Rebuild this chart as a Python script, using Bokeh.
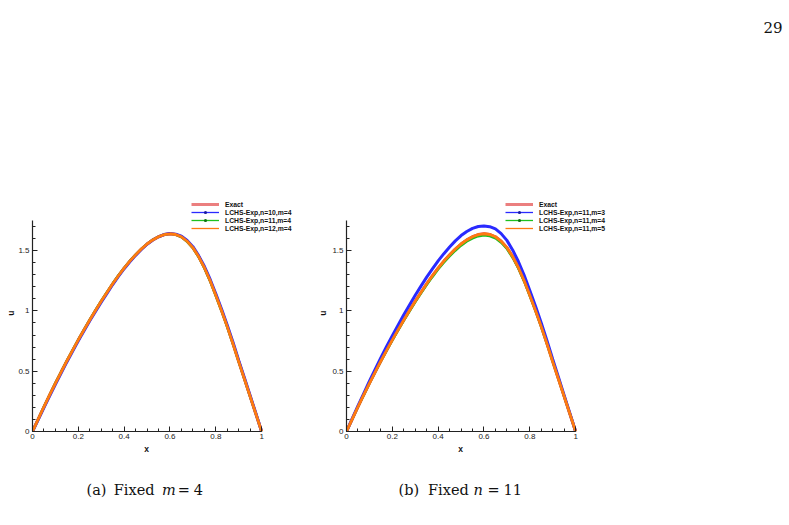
import math
from bokeh.plotting import figure
from bokeh.layouts import row, column
from bokeh.models import FixedTicker, Legend, LegendItem, Label, Range1d
from bokeh.embed import file_html
from bokeh.resources import INLINE

# ---------------- data ----------------
x_vals = [0.0, 0.025, 0.05, 0.075, 0.10, 0.125, 0.15, 0.175, 0.20, 0.225, 0.25,
          0.275, 0.30, 0.325, 0.35, 0.375, 0.40, 0.425, 0.45, 0.475, 0.50,
          0.525, 0.55, 0.575, 0.60, 0.625, 0.65, 0.675, 0.70, 0.725, 0.75,
          0.775, 0.80, 0.825, 0.85, 0.875, 0.90, 0.925, 0.95, 0.975, 1.0]

exact = [0, 0.103, 0.205, 0.303, 0.400, 0.493, 0.585, 0.673, 0.760, 0.843, 0.925,
         1.003, 1.080, 1.153, 1.225, 1.292, 1.355, 1.413, 1.465, 1.513, 1.555,
         1.589, 1.615, 1.633, 1.640, 1.634, 1.615, 1.578, 1.525, 1.451, 1.360,
         1.252, 1.130, 1.004, 0.870, 0.728, 0.580, 0.435, 0.290, 0.145, 0]

# (a) fixed m = 4
a_n10 = [0, 0.099, 0.198, 0.295, 0.392, 0.485, 0.577, 0.665, 0.752, 0.835, 0.918,
         0.996, 1.073, 1.146, 1.219, 1.286, 1.350, 1.408, 1.461, 1.510, 1.553,
         1.588, 1.615, 1.634, 1.642, 1.637, 1.620, 1.584, 1.533, 1.459, 1.370,
         1.263, 1.142, 1.016, 0.882, 0.740, 0.590, 0.444, 0.297, 0.149, 0]
a_n11 = [0, 0.105, 0.210, 0.308, 0.406, 0.499, 0.591, 0.679, 0.766, 0.849, 0.931,
         1.009, 1.086, 1.159, 1.230, 1.297, 1.360, 1.417, 1.469, 1.516, 1.557,
         1.591, 1.616, 1.633, 1.639, 1.631, 1.611, 1.572, 1.519, 1.444, 1.352,
         1.243, 1.121, 0.995, 0.862, 0.721, 0.573, 0.429, 0.285, 0.143, 0]
a_n12 = [0, 0.103, 0.205, 0.303, 0.400, 0.493, 0.585, 0.673, 0.760, 0.843, 0.925,
         1.003, 1.080, 1.153, 1.225, 1.292, 1.355, 1.413, 1.465, 1.513, 1.555,
         1.589, 1.615, 1.633, 1.640, 1.634, 1.615, 1.578, 1.525, 1.451, 1.360,
         1.252, 1.130, 1.004, 0.870, 0.728, 0.580, 0.435, 0.290, 0.145, 0]

# (b) fixed n = 11
b_m3 = [0, 0.106, 0.212, 0.315, 0.418, 0.516, 0.613, 0.705, 0.795, 0.882, 0.968,
        1.050, 1.130, 1.206, 1.280, 1.349, 1.415, 1.475, 1.530, 1.581, 1.625,
        1.659, 1.685, 1.700, 1.705, 1.699, 1.680, 1.641, 1.585, 1.506, 1.410,
        1.297, 1.170, 1.039, 0.900, 0.753, 0.600, 0.451, 0.300, 0.150, 0]
b_m4 = [0, 0.101, 0.202, 0.299, 0.396, 0.488, 0.580, 0.667, 0.753, 0.835, 0.916,
        0.993, 1.070, 1.142, 1.213, 1.279, 1.342, 1.399, 1.451, 1.498, 1.540,
        1.574, 1.600, 1.618, 1.625, 1.619, 1.601, 1.564, 1.512, 1.438, 1.349,
        1.242, 1.121, 0.996, 0.863, 0.722, 0.575, 0.431, 0.287, 0.144, 0]
b_m5 = [0, 0.103, 0.205, 0.303, 0.400, 0.493, 0.585, 0.673, 0.760, 0.843, 0.925,
        1.003, 1.080, 1.153, 1.225, 1.292, 1.355, 1.413, 1.465, 1.513, 1.555,
        1.589, 1.615, 1.633, 1.640, 1.634, 1.615, 1.578, 1.525, 1.451, 1.360,
        1.252, 1.130, 1.004, 0.870, 0.728, 0.580, 0.435, 0.290, 0.145, 0]

labels_a = ["Exact", "LCHS-Exp,n=10,m=4", "LCHS-Exp,n=11,m=4", "LCHS-Exp,n=12,m=4"]
labels_b = ["Exact", "LCHS-Exp,n=11,m=3", "LCHS-Exp,n=11,m=4", "LCHS-Exp,n=11,m=5"]

x_ticks = [0, 0.2, 0.4, 0.6, 0.8, 1.0]
x_tick_labels = ["0", "0.2", "0.4", "0.6", "0.8", "1"]
x_minor = [i * 0.05 for i in range(21)]
y_ticks = [0, 0.5, 1.0, 1.5]
y_tick_labels = ["0", "0.5", "1", "1.5"]
y_minor = [i * 0.1 for i in range(18)]
x_bounds = (0, 1)
y_bounds = (0, 1.75)

RED = "#e03a3a"
BLUE = "#2a2aff"
GREEN = "#1fc01f"
ORANGE = "#ff7a10"

SANS = "Liberation Sans"
SERIF = "DejaVu Serif"

# frame geometry (pixels): data 0..1 spans 230 px, 0..1.75 spans 211 px
FRAME_W, FRAME_H = 267, 235
X_END = FRAME_W / 230.0
Y_END = FRAME_H * 1.75 / 211.0
NAN = [float("nan")]


def make_panel(width, border_left, border_right, series, labels):
    p = figure(width=width, height=248, output_backend="svg", toolbar_location=None,
               x_range=Range1d(0, X_END), y_range=Range1d(0, Y_END),
               min_border_left=border_left, min_border_right=border_right,
               min_border_top=0, min_border_bottom=13)
    p.outline_line_color = None
    p.background_fill_color = "white"
    p.border_fill_color = "white"
    p.xgrid.visible = False
    p.ygrid.visible = False

    for ax, ticks, tlabels, minor, bnds in (
            (p.xaxis[0], x_ticks, x_tick_labels, x_minor, x_bounds),
            (p.yaxis[0], y_ticks, y_tick_labels, y_minor, y_bounds)):
        ax.ticker = FixedTicker(ticks=ticks, minor_ticks=minor)
        ax.major_label_overrides = dict(zip(ticks, tlabels))
        ax.bounds = bnds
        ax.major_tick_in = 5
        ax.major_tick_out = 0
        ax.minor_tick_in = 3
        ax.minor_tick_out = 0
        ax.axis_line_color = "#222222"
        ax.axis_line_width = 1.2
        ax.major_tick_line_color = "#222222"
        ax.minor_tick_line_color = "#222222"
        ax.major_label_text_font = SANS
        ax.major_label_text_font_size = "8px"
        ax.major_label_text_color = "#222222"
    p.xaxis[0].major_label_standoff = 2
    p.yaxis[0].major_label_standoff = 3

    exact_s, s1, s2, s3 = series
    p.line(x_vals, exact_s, line_color=RED, line_width=3)
    p.line(x_vals, s1, line_color=BLUE, line_width=3)
    p.line(x_vals, s2, line_color=GREEN, line_width=2)
    p.line(x_vals, s3, line_color=ORANGE, line_width=2.8)

    # legend glyphs (NaN data: nothing drawn in the plot, only in the legend)
    lr = p.line(NAN, NAN, line_color=RED, line_width=3, line_alpha=0.65)
    lb = p.line(NAN, NAN, line_color=BLUE, line_width=1.3)
    lbd = p.scatter(NAN, NAN, marker="circle", size=3, fill_color="#1a1aa0", line_color=None)
    lg = p.line(NAN, NAN, line_color=GREEN, line_width=1.3)
    lgd = p.scatter(NAN, NAN, marker="circle", size=3, fill_color="#107010", line_color=None)
    lo = p.line(NAN, NAN, line_color=ORANGE, line_width=1.3)

    items = [LegendItem(label=labels[0], renderers=[lr]),
             LegendItem(label=labels[1], renderers=[lb, lbd]),
             LegendItem(label=labels[2], renderers=[lg, lgd]),
             LegendItem(label=labels[3], renderers=[lo])]
    leg = Legend(items=items, location=(159, 199), padding=0, margin=0, spacing=0,
                 glyph_width=28, glyph_height=8, label_height=8, label_standoff=6,
                 border_line_color=None, background_fill_alpha=0,
                 label_text_font=SANS, label_text_font_style="bold",
                 label_text_font_size="6.8px", label_text_color="#111111")
    p.add_layout(leg)
    return p


def text_fig(w, h):
    f = figure(width=w, height=h, output_backend="svg", toolbar_location=None,
               x_range=Range1d(0, w), y_range=Range1d(0, h),
               x_axis_location=None, y_axis_location=None, min_border=0)
    f.outline_line_color = None
    f.xgrid.visible = False
    f.ygrid.visible = False
    f.background_fill_color = "white"
    f.border_fill_color = "white"
    return f


def add_text(f, txt, x, y, font=SERIF, size="14.5px", style="normal",
             align="left", baseline="alphabetic", angle=0.0):
    f.add_layout(Label(x=x, y=y, x_units="screen", y_units="screen", text=txt,
                       text_font=font, text_font_size=size, text_font_style=style,
                       text_color="#111111", text_align=align, text_baseline=baseline,
                       angle=angle))


# top strip with page number
top = text_fig(789, 196)
add_text(top, "29", 763, 169, size="15px")

# main plots with y-axis titles
p1 = make_panel(300, 16, 17, (exact, a_n10, a_n11, a_n12), labels_a)
p2 = make_panel(460, 16, 177, (exact, b_m3, b_m4, b_m5), labels_b)

uL = text_fig(15, 248)
add_text(uL, "u", 10.3, 118.3, font=SANS, size="8.5px", style="bold",
         align="center", baseline="middle", angle=math.pi / 2)
uR = text_fig(14, 248)
add_text(uR, "u", 7.5, 118.3, font=SANS, size="8.5px", style="bold",
         align="center", baseline="middle", angle=math.pi / 2)

# bottom strip: x-axis titles and sub-captions
capL = text_fig(315, 81)
add_text(capL, "x", 146, 76.7, font=SANS, size="8.5px", style="bold", align="center")
for txt, xpos, style in [("(a)", 86, "normal"), ("Fixed", 113.3, "normal"),
                         ("m", 161.5, "italic"), ("=", 177.3, "normal"),
                         ("4", 193.3, "normal")]:
    add_text(capL, txt, xpos, 35.7, style=style)

capR = text_fig(474, 81)
add_text(capR, "x", 145, 76.7, font=SANS, size="8.5px", style="bold", align="center")
for txt, xpos, style in [("(b)", 83, "normal"), ("Fixed", 112.5, "normal"),
                         ("n", 158, "italic"), ("=", 172, "normal"),
                         ("11", 188, "normal")]:
    add_text(capR, txt, xpos, 35.7, style=style)

layout = column(top, row(uL, p1, uR, p2, spacing=0), row(capL, capR, spacing=0),
                spacing=0)
open("out.html", "w").write(file_html(layout, INLINE))
